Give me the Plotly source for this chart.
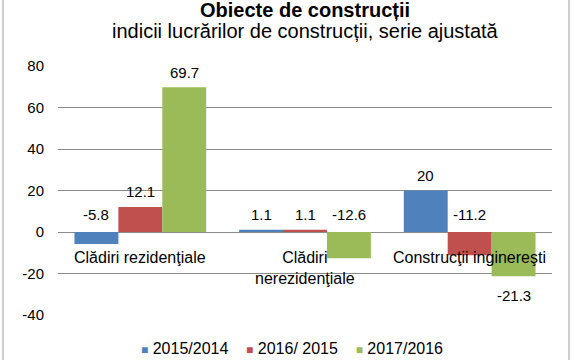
import plotly.graph_objects as go

categories = ["Clădiri rezidenţiale", "Clădiri<br>nerezidenţiale", "Construcţii inginereşti"]
series_names = ["2015/2014", "2016/ 2015", "2017/2016"]
v2015 = [-5.8, 1.1, 20]
v2016 = [12.1, 1.1, -11.2]
v2017 = [69.7, -12.6, -21.3]
# where each value label sits: "end" = beyond bar end, "zero" = just above the zero line
label_side = [["zero", "end", "end"], ["end", "end", "zero"], ["end", "zero", "end"]]
colors = ["#4F81BD", "#C0504D", "#9BBB59"]
ytick_vals = [-40, -20, 0, 20, 40, 60, 80]
ytick_text = ["-40", "-20", "0", "20", "40", "60", "80"]

FONT = "Liberation Sans, Arial"
series = [v2015, v2016, v2017]
bargap = 0.2
w = (1 - bargap) / 3
xs = list(range(len(categories)))

fig = go.Figure()
for j, (name, vals) in enumerate(zip(series_names, series)):
    fig.add_trace(go.Bar(x=xs, y=vals, name=name, marker_color=colors[j],
                         marker_line_width=0, showlegend=False))

annotations = []
lab_font = dict(family=FONT, size=15, color="#000")
for j, vals in enumerate(series):
    for i, v in enumerate(vals):
        side = label_side[j][i]
        x = i + (j - 1) * w
        if side == "zero":
            annotations.append(dict(x=x, y=0, yshift=18, yanchor="middle", text=str(v),
                                    showarrow=False, font=lab_font))
        elif v >= 0:
            annotations.append(dict(x=x, y=v, yshift=15, yanchor="middle", text=str(v),
                                    showarrow=False, font=lab_font))
        else:
            annotations.append(dict(x=x, y=v, yshift=-19, yanchor="middle", text=str(v),
                                    showarrow=False, font=lab_font))

for i, c in enumerate(categories):
    annotations.append(dict(x=i, y=0, yshift=-15, yanchor="top", text=c, showarrow=False,
                            font=dict(family=FONT, size=16, color="#000")))

annotations.append(dict(xref="paper", yref="paper", x=0.5, y=1, yshift=56, yanchor="middle",
                        text="<b>Obiecte de construcții</b>", showarrow=False,
                        font=dict(family=FONT, size=20, color="#000")))
annotations.append(dict(xref="paper", yref="paper", x=0.5, y=1, yshift=35, yanchor="middle",
                        text="indicii lucrărilor de construcții, serie ajustată", showarrow=False,
                        font=dict(family=FONT, size=20, color="#000")))

# legend drawn as a text line built from the series names and colours
nb = "\u00a0"
parts = []
for name, col in zip(series_names, colors):
    parts.append(f'<span style="color:{col};font-size:12px">■</span>{nb}{name.replace(" ", nb)}')
legend_text = (nb * 4).join(parts)
annotations.append(dict(xref="paper", yref="paper", x=0.5, y=0, yshift=-33, xshift=-13,
                        yanchor="middle", text=legend_text, showarrow=False,
                        font=dict(family=FONT, size=16, color="#000")))

L, R, T, B = 58, 22, 66, 45
pw = 574 - L - R
ph = 360 - T - B

fig.update_layout(
    width=574, height=360,
    margin=dict(l=L, r=R, t=T, b=B, autoexpand=False),
    paper_bgcolor="white", plot_bgcolor="white",
    barmode="group", bargap=bargap, bargroupgap=0,
    showlegend=False,
    xaxis=dict(range=[-0.5, 2.5], showticklabels=False, showgrid=False, zeroline=False,
               ticks=""),
    yaxis=dict(range=[-40, 80], tickvals=ytick_vals, ticktext=ytick_text, showgrid=True,
               gridcolor="#8a8a8a", gridwidth=1, zeroline=True, zerolinecolor="#8a8a8a",
               zerolinewidth=1, tickfont=dict(family=FONT, size=15, color="#000"),
               ticks="", ticklabelstandoff=13),
    annotations=annotations,
    shapes=[dict(type="line", xref="paper", yref="paper",
                 x0=(3 - L) / pw, x1=(3 - L) / pw, y0=-B / ph - 0.1, y1=1 + T / ph + 0.1,
                 line=dict(color="#a0a0a0", width=1)),
            dict(type="line", xref="paper", yref="paper",
                 x0=(569 - L) / pw, x1=(569 - L) / pw, y0=-B / ph - 0.1, y1=1 + T / ph + 0.1,
                 line=dict(color="#a0a0a0", width=1))],
)

fig.write_html("out.html", config={"displayModeBar": False},
               post_script="document.body.style.margin='0';")
